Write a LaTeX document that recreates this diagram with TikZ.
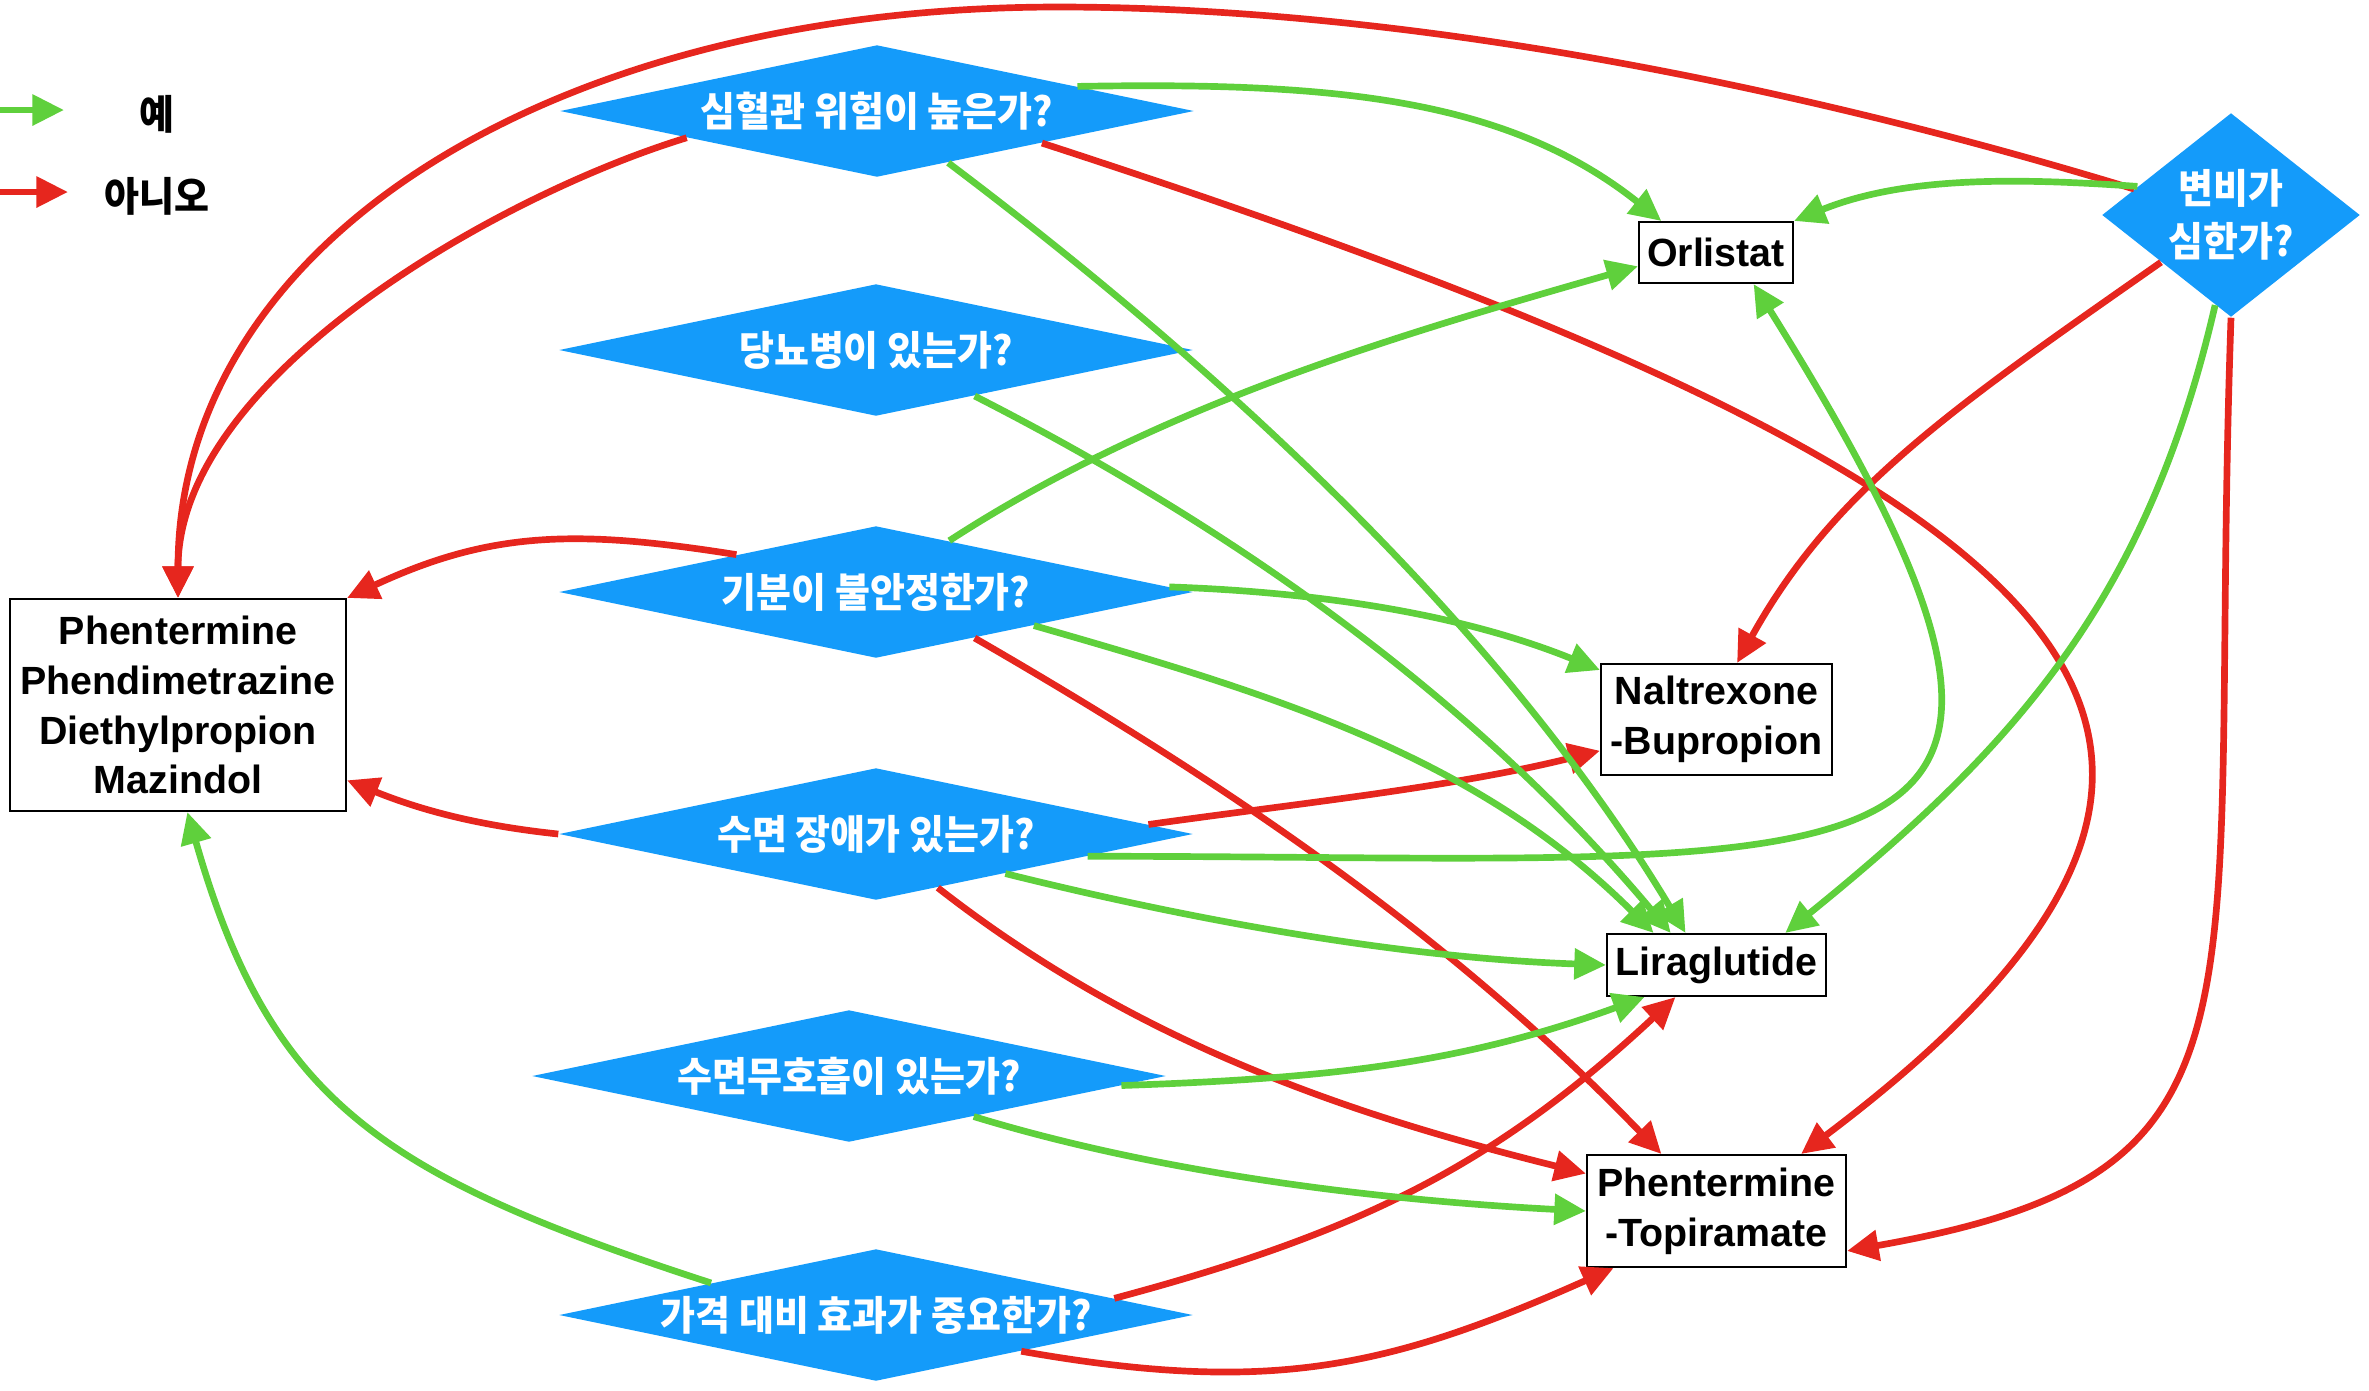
\documentclass[tikz,border=0pt]{standalone}
\usepackage{fontspec}
\setmainfont{Liberation Sans}
\newfontfamily\kor[FakeStretch=0.94]{Noto Sans CJK KR}
\usetikzlibrary{arrows.meta,shapes.geometric}

\definecolor{qblue}{RGB}{20,155,250}
\definecolor{yesgreen}{RGB}{95,208,60}
\definecolor{nored}{RGB}{230,38,30}

\tikzset{
  question/.style={diamond,fill=qblue,inner xsep=0pt,inner ysep=-3pt,text=white,align=center,
    font=\kor\bfseries\fontsize{11.5}{15}\selectfont},
  legendtext/.style={inner sep=0pt,font=\kor\bfseries\fontsize{11.5}{15}\selectfont},
  drug/.style={draw=black,line width=0.6pt,inner sep=0pt,align=center,
    font=\bfseries\fontsize{11.2}{14.2}\selectfont},
  yesarrow/.style={draw=yesgreen,line width=1.9pt,-{Triangle[length=9pt,width=8.5pt]}},
  noarrow/.style={draw=nored,line width=1.9pt,-{Triangle[length=9pt,width=8.5pt]}},
}

\begin{document}
\begin{tikzpicture}
			%%%%% START %%%%%
			\useasboundingbox (0,0) rectangle (23.69,-13.90);
			
			% legend
			\coordinate (yes0) at (0,-1.10);
			\coordinate (yes1) at (0.64,-1.10);
			\coordinate (no0) at (0,-1.92);
			\coordinate (no1) at (0.68,-1.92);
			\node[legendtext] (yeslabel) at (1.57,-1.14) {예};
			\node[legendtext] (nolabel) at (1.57,-1.96) {아니오};
			\draw[yesarrow] (yes0) -- (yes1);
			\draw[noarrow] (no0) -- (no1);
			
			% questions
			\node[question,minimum width=6.34cm,minimum height=1.32cm,aspect=4.8] (d1) at (8.77,-1.11) {심혈관 위험이 높은가?};
			\node[question,minimum width=6.34cm,minimum height=1.32cm,aspect=4.8] (d2) at (8.76,-3.50) {당뇨병이 있는가?};
			\node[question,minimum width=6.34cm,minimum height=1.32cm,aspect=4.8] (d3) at (8.76,-5.92) {기분이 불안정한가?};
			\node[question,minimum width=6.34cm,minimum height=1.32cm,aspect=4.8] (d4) at (8.76,-8.34) {수면 장애가 있는가?};
			\node[question,minimum width=6.34cm,minimum height=1.32cm,aspect=4.8] (d5) at (8.49,-10.76) {수면무호흡이 있는가?};
			\node[question,minimum width=6.34cm,minimum height=1.32cm,aspect=4.8] (d6) at (8.76,-13.15) {가격 대비 효과가 중요한가?};
			\node[question,minimum width=2.58cm,minimum height=2.04cm,aspect=1.26] (d7) at (22.31,-2.15) {변비가\\심한가?};
			
			% drugs
			\node[drug,minimum width=3.36cm,minimum height=2.12cm] (lbox) at (1.78,-7.05) {Phentermine\\Phendimetrazine\\Diethylpropion\\Mazindol};
			\node[drug,minimum width=1.54cm,minimum height=0.61cm] (orl) at (17.16,-2.525) {Orlistat};
			\node[drug,minimum width=2.31cm,minimum height=1.11cm] (nal) at (17.165,-7.195) {Naltrexone\\-Bupropion};
			\node[drug,minimum width=2.19cm,minimum height=0.62cm] (lira) at (17.165,-9.65) {Liraglutide};
			\node[drug,minimum width=2.59cm,minimum height=1.12cm] (pt) at (17.165,-12.11) {Phentermine\\-Topiramate};
			
			% no
			\coordinate (noTop) at (10.58,-0.07);
			\draw[noarrow] (d7.165) .. controls +(163:3.5) and +(0:3.5) .. (noTop) .. controls +(180:5) and +(90:3.6) .. (lbox.north);
			\draw[noarrow] (d1.188) .. controls +(197:2) and +(90:2.2) .. (lbox.north);
			\draw[noarrow] (d1.-11) .. controls +(-18:11) and +(37:7) .. (pt.34);
			\draw[noarrow] (d7.214) .. controls +(215:2.5) and +(61:2) .. (nal.70);
			\draw[noarrow] (d7.-90) .. controls +(-92:7) and +(10:4.5) .. (pt.-17);
			\draw[noarrow] (d3.-25) .. controls +(-30:3) and +(134:3) .. (pt.134);
			\draw[noarrow] (d3.165) .. controls +(171:1.6) and +(25:1.6) .. (lbox.north east);
			\draw[noarrow] (d4.2) .. controls +(8:1.5) and +(194:1.5) .. (nal.195);
			\draw[noarrow] (d4.180) .. controls +(174:0.8) and +(-22:0.8) .. (lbox.-24);
			\draw[noarrow] (d4.-41.5) .. controls +(-38:2.5) and +(166:2.5) .. (pt.164);
			\draw[noarrow] (d6.4) .. controls +(15:2.5) and +(223:2.5) .. (lira.-142);
			\draw[noarrow] (d6.-14) .. controls +(-10:2.5) and +(204:2.5) .. (pt.-151);
			
			% yes
			\draw[yesarrow] (d1.7.6) .. controls +(1:2.5) and +(141.5:2) .. (orl.150);
			\draw[yesarrow] (d7.163) .. controls +(176:1.2) and +(22:1.2) .. (orl.north east);
			\draw[yesarrow] (d3.35) .. controls +(33:2.5) and +(196:2.5) .. (orl.190);
			\draw[yesarrow] (d4.-6) .. controls +(0:8) and +(-58:7.5) .. (orl.-40);
			\draw[yesarrow] (d1.-36) .. controls +(-37:3.5) and +(121:3.5) .. (lira.134);
			\draw[yesarrow] (d2.-25) .. controls +(-27:3) and +(130:3) .. (lira.145);
			\draw[yesarrow] (d3.1) .. controls +(-2:1.5) and +(158:1.5) .. (nal.157);
			\draw[yesarrow] (d3.-12.6) .. controls +(-16:2.5) and +(135:2.5) .. (lira.153);
			\draw[yesarrow] (d4.-17.6) .. controls +(-14:2) and +(178:2) .. (lira.west);
			\draw[yesarrow] (d7.260) .. controls +(-103:3) and +(39:3) .. (lira.25);
			\draw[yesarrow] (d5.-2) .. controls +(2:2) and +(200:2) .. (lira.-156);
			\draw[yesarrow] (d5.-18) .. controls +(-17:2) and +(177:2) .. (pt.west);
			\draw[yesarrow] (d6.169) .. controls +(162:3.5) and +(-74:3) .. (lbox.-85);
			%%%%% END %%%%%
\end{tikzpicture}
\end{document}
